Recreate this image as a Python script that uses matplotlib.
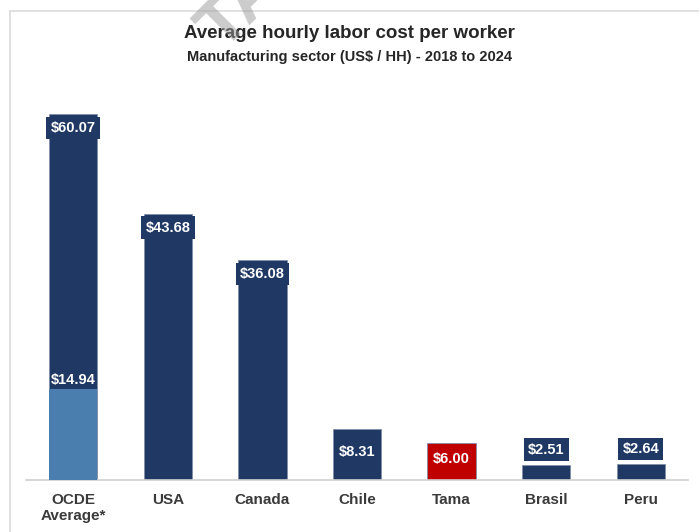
import matplotlib
matplotlib.use("Agg")
import matplotlib.pyplot as plt
from matplotlib.lines import Line2D

# Datos
categories = ["OCDE\nAverage*", "USA", "Canada", "Chile", "Tama", "Brasil", "Peru"]
values = [60.07, 43.68, 36.08, 8.31, 6.00, 2.51, 2.64]
ocde_low = 14.94
bar_colors = ["#1F3864", "#1F3864", "#1F3864", "#1F3864", "#C00000", "#1F3864", "#1F3864"]
# posicion de la etiqueta: top = dentro arriba, mid = centro, above = encima
label_pos = ["top", "top", "top", "mid", "mid", "above", "above"]

navy = "#1F3864"
light_blue = "#4A7EAF"
text_gray = "#3A3A3A"

plt.rcParams['font.family'] = ['Liberation Sans', 'DejaVu Sans']

fig = plt.figure(figsize=(6.99, 5.32), dpi=100)
ax = fig.add_axes([26 / 699, 52 / 532, 662 / 699, 420 / 532])

x = list(range(len(categories)))
w = 0.51

# barras
ax.bar(x, values, width=w, color=bar_colors, edgecolor="#8090a8", linewidth=0.6, zorder=2)
ax.bar([0], [ocde_low], width=w, color=light_blue, linewidth=0, zorder=3)

box = dict(boxstyle="square,pad=0.3", facecolor=navy, edgecolor="none")
for xi, v, pos in zip(x, values, label_pos):
    txt = f"${v:.2f}"
    if pos == "top":
        ax.text(xi, v - 1.1, txt, ha="center", va="top", color="white",
                fontsize=10.5, fontweight="bold", bbox=box, zorder=4)
    elif pos == "mid":
        ax.text(xi, v / 2 + 0.4, txt, ha="center", va="center", color="white",
                fontsize=10.5, fontweight="bold", zorder=4)
    else:
        ax.text(xi, v + 1.3, txt, ha="center", va="bottom", color="white",
                fontsize=10.5, fontweight="bold", bbox=box, zorder=4)

ax.text(0, ocde_low + 0.3, f"${ocde_low:.2f}", ha="center", va="bottom", color="white",
        fontsize=10.5, fontweight="bold", zorder=4)

ax.set_xlim(-0.5, len(categories) - 0.5)
ax.set_ylim(0, 69)
ax.set_xticks(x)
ax.set_xticklabels(categories, fontsize=11, fontweight="bold", color=text_gray,
                   linespacing=1.2)
ax.tick_params(axis="x", length=0, pad=9)
ax.set_yticks([])
for s in ["top", "right", "left"]:
    ax.spines[s].set_visible(False)
ax.spines["bottom"].set_color("#d0d0d0")
ax.spines["bottom"].set_linewidth(1.2)

# titulos
fig.text(0.5, 1 - 34 / 532, "Average hourly labor cost per worker", ha="center", va="center",
         fontsize=13.5, fontweight="bold", color="#262626")
fig.text(0.5, 1 - 57 / 532, "Manufacturing sector (US$ / HH) - 2018 to 2024", ha="center",
         va="center", fontsize=10.5, fontweight="bold", color="#262626")

# marco gris
fig.add_artist(Line2D([10 / 699, 10 / 699], [0, 1 - 11 / 532], color="#dcdcdc", lw=1.2))
fig.add_artist(Line2D([10 / 699, 1], [1 - 11 / 532, 1 - 11 / 532], color="#dcdcdc", lw=1.2))

# marca de agua
fig.text(222 / 699, 1 - 52 / 532, "TAMA", rotation=45, rotation_mode="anchor", fontsize=50,
         fontweight="bold", color="#9a9a9a", alpha=0.5, ha="left", va="baseline", zorder=10)

fig.savefig("out.png", dpi=100)
